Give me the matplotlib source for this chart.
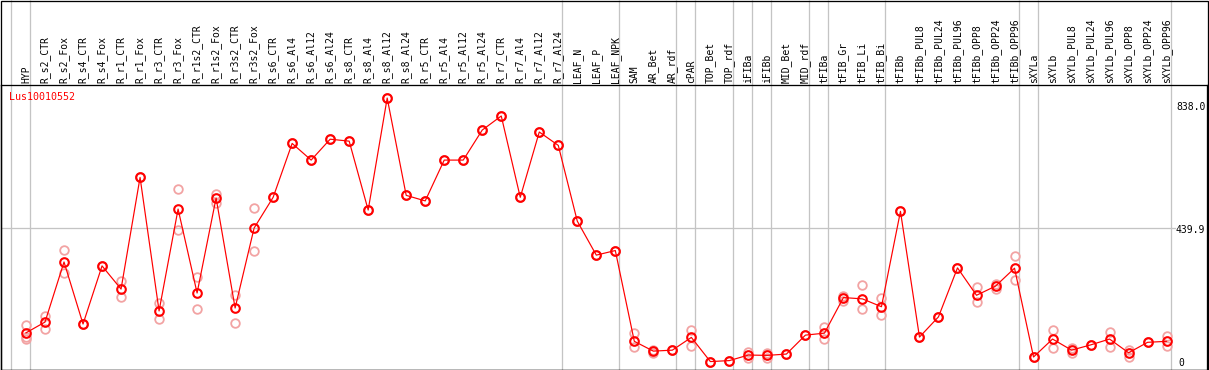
import matplotlib
matplotlib.use("Agg")
import matplotlib.pyplot as plt

# ---------------- data ----------------
title = "Lus10010552"
categories = [
    "HYP", "R_s2_CTR", "R_s2_Fox", "R_s4_CTR", "R_s4_Fox", "R_r1_CTR", "R_r1_Fox",
    "R_r3_CTR", "R_r3_Fox", "R_r1s2_CTR", "R_r1s2_Fox", "R_r3s2_CTR", "R_r3s2_Fox",
    "R_s6_CTR", "R_s6_Al4", "R_s6_Al12", "R_s6_Al24", "R_s8_CTR", "R_s8_Al4",
    "R_s8_Al12", "R_s8_Al24", "R_r5_CTR", "R_r5_Al4", "R_r5_Al12", "R_r5_Al24",
    "R_r7_CTR", "R_r7_Al4", "R_r7_Al12", "R_r7_Al24", "LEAF_N", "LEAF_P", "LEAF_NPK",
    "SAM", "AR_Bet", "AR_rdf", "cPAR", "TOP_Bet", "TOP_rdf", "iFIBa", "iFIBb",
    "MID_Bet", "MID_rdf", "tFIBa", "tFIB_Gr", "tFIB_Li", "tFIB_Bi", "tFIBb",
    "tFIBb_PUL8", "tFIBb_PUL24", "tFIBb_PUL96", "tFIBb_OPP8", "tFIBb_OPP24",
    "tFIBb_OPP96", "sXYLa", "sXYLb", "sXYLb_PUL8", "sXYLb_PUL24", "sXYLb_PUL96",
    "sXYLb_OPP8", "sXYLb_OPP24", "sXYLb_OPP96",
]
means = [
    119, 152, 336, 146, 324, 253, 595, 186, 498, 241, 532, 195, 440,
    534, 699, 648, 712, 706, 495, 838, 540, 523, 648, 648, 740,
    783, 534, 734, 693, 461, 357, 371,
    93, 63, 66, 105, 31, 34, 51, 50,
    54, 112, 118, 227, 223, 199, 491,
    106, 168, 318, 234, 262, 317,
    45, 100, 66, 82, 100, 58, 90, 93,
]
replicates = [
    [143, 106, 99], [171, 130], [372, 301], [146, 146], [324, 324], [278, 228],
    [595, 595], [211, 160], [559, 434], [289, 191], [544, 518], [236, 150],
    [500, 370], [534, 534], [699, 699], [648, 648], [712, 712], [706, 706],
    [495, 495], [838, 838], [540, 540], [523, 523], [648, 648], [648, 648],
    [740, 740], [783, 783], [534, 534], [734, 734], [693, 693], [461, 461],
    [357, 357], [371, 371], [119, 77], [56, 66], [66, 66], [128, 80], [31, 31],
    [34, 34], [61, 41], [57, 42], [54, 54], [112, 112], [138, 99], [233, 217],
    [265, 191], [226, 173], [491, 491], [106, 106], [168, 168], [318, 318],
    [258, 213], [269, 254], [353, 281], [45, 45], [128, 72], [73, 56], [82, 82],
    [122, 75], [66, 46], [90, 90], [109, 80],
]
# group separators are drawn after these category indices
separators_after = [-1, 0, 28, 31, 34, 35, 37, 38, 39, 41, 42, 45, 52, 53, 60]
y_max_label = 838.0
y_mid_label = 439.9

# ---------------- figure ----------------
W, H = 1209, 370
fig = plt.figure(figsize=(W / 100, H / 100), dpi=100)
px = 0.72  # one pixel in points

top_px, bot_px, left_px, right_px = 85, 369.5, 1, 1207
ax = fig.add_axes([left_px / W, (H - bot_px) / H,
                   (right_px - left_px) / W, (bot_px - top_px) / H])
step = 19.01
first_px = 26
ax.set_xlim((left_px - first_px) / step, (right_px - first_px) / step)
scale = 0.32656  # px per unit
zero_px = 371.7
ax.set_ylim((zero_px - bot_px) / scale, (zero_px - top_px) / scale)
ax.set_xticks([])
ax.set_yticks([])
for sp in ax.spines.values():
    sp.set_linewidth(1.3 * px)
    sp.set_color("black")

font = "DejaVu Sans Mono"
gray = "#c4c4c4"
red = "#ff0000"
pink = "#f2a3a3"

# separators spanning the whole height (including label header)
xt = ax.get_xaxis_transform()
top_frac = bot_px / (bot_px - top_px)
sep_x = [k + 4.0 / step for k in separators_after]
ax.vlines(sep_x, 0, top_frac, transform=xt, colors=gray, lw=1.3 * px,
          clip_on=False, zorder=1)
# middle gridline
ax.axhline(y_mid_label, xmin=0, xmax=(1175 - left_px) / (right_px - left_px),
           color=gray, lw=1.3 * px, zorder=1)

xs = list(range(len(categories)))
# replicates
for i, reps in enumerate(replicates):
    ax.plot([i] * len(reps), reps, linestyle="none", marker="o", ms=6.2,
            mfc="none", mec=pink, mew=1.3, zorder=2)
# mean line
ax.plot(xs, means, color=red, lw=1.2 * px, zorder=3)
ax.plot(xs, means, linestyle="none", marker="o", ms=6.2, mfc="none",
        mec=red, mew=1.5, zorder=4)

# category labels in header
for i, c in enumerate(categories):
    ax.text(i, 1 + 2.0 / (bot_px - top_px), c, transform=xt, rotation=90,
            ha="center", va="bottom", fontsize=7, family=font, color="black")

# title
ax.text((9 - left_px) / (right_px - left_px), 1 - 12.5 / (bot_px - top_px), title,
        transform=ax.transAxes, ha="left", va="center", fontsize=7.2,
        family=font, color=red)

# right-hand scale labels
lab_x = (1176 - first_px) / step
ax.annotate(f"{y_max_label:.1f}", (lab_x, y_max_label), xytext=(0, -9),
            textcoords="offset pixels", ha="left", va="center", fontsize=7,
            family=font, annotation_clip=False)
ax.annotate(f"{y_mid_label:.1f}", (lab_x, y_mid_label), xytext=(0, -2),
            textcoords="offset pixels", ha="left", va="center", fontsize=7,
            family=font, annotation_clip=False)
ax.annotate("0", (lab_x + 0.15, 0), xytext=(0, 9),
            textcoords="offset pixels", ha="left", va="center", fontsize=7,
            family=font, annotation_clip=False)

# outer frame
fig.add_artist(plt.Rectangle((0.5 / W, 0.5 / H), (W - 1.5) / W, (H - 1) / H,
                             transform=fig.transFigure, fill=False,
                             edgecolor="black", lw=1.3 * px))

fig.savefig("out.png", dpi=100)
